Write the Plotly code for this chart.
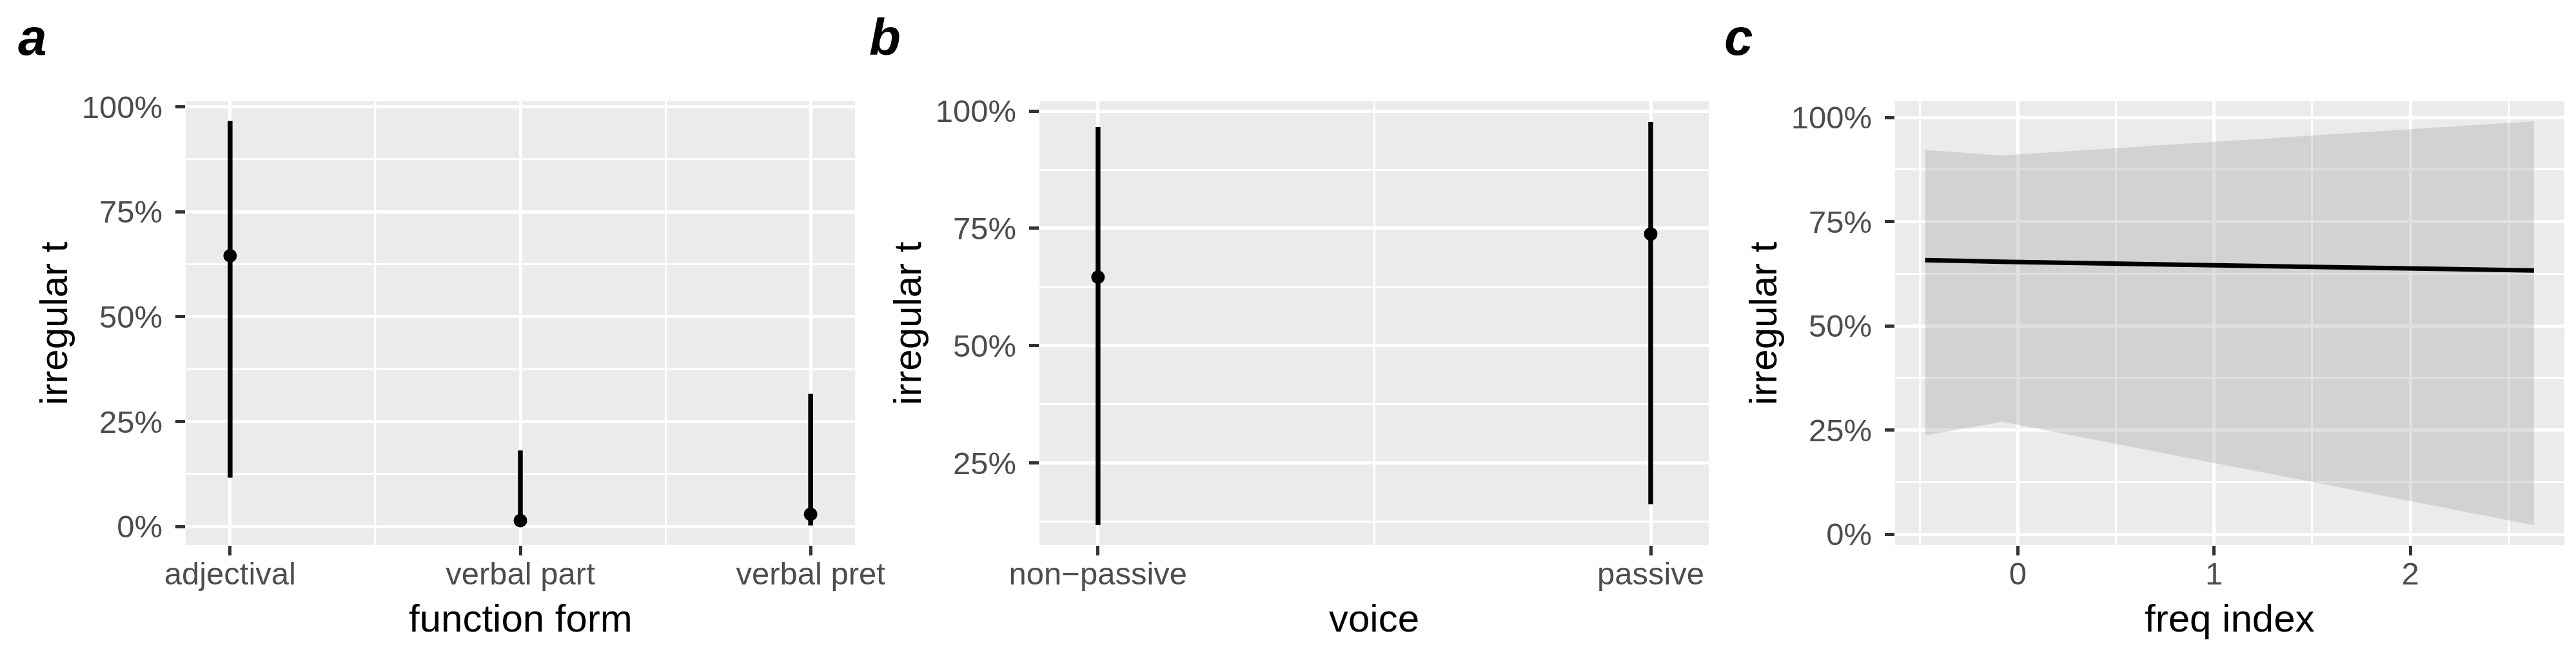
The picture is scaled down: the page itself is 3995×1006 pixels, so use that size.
import plotly.graph_objects as go

W, H = 3995, 1006

# ---- data ----
form_cats = ["adjectival", "verbal part", "verbal pret"]
form_est = [64.5, 1.4, 2.9]
form_lo = [11.6, 0.2, 0.25]
form_hi = [96.6, 18.1, 31.6]

voice_cats = ["non\u2212passive", "passive"]
voice_est = [64.6, 73.8]
voice_lo = [11.75, 16.2]
voice_hi = [96.6, 97.7]

freq_x = [-0.472, -0.079, 2.63]
freq_fit = [65.8, 65.4, 63.3]
freq_lo = [23.7, 27.0, 2.2]
freq_hi = [92.2, 90.9, 99.1]

pct_ticks = [0, 25, 50, 75, 100]
pct_minor = [12.5, 37.5, 62.5, 87.5]

FONT = "Liberation Sans"
TICKCOL = "#4D4D4D"
TICKMARK = "#333333"
BG = "#EBEBEB"

def px2x(p):
    return p / W

def px2y(p):
    return 1 - p / H

panel_left = [280, 1604, 2931]
panel_w = 1038
top_px, bot_px = 149, 837

fig = go.Figure()

# panel a
fig.add_trace(go.Scatter(
    x=[1, 2, 3], y=form_est, mode="markers",
    marker=dict(color="black", size=21),
    error_y=dict(type="data", symmetric=False,
                 array=[h - e for h, e in zip(form_hi, form_est)],
                 arrayminus=[e - l for e, l in zip(form_est, form_lo)],
                 width=0, thickness=7.5, color="black"),
    xaxis="x", yaxis="y", showlegend=False))

# panel b
fig.add_trace(go.Scatter(
    x=[1, 2], y=voice_est, mode="markers",
    marker=dict(color="black", size=21),
    error_y=dict(type="data", symmetric=False,
                 array=[h - e for h, e in zip(voice_hi, voice_est)],
                 arrayminus=[e - l for e, l in zip(voice_est, voice_lo)],
                 width=0, thickness=7.5, color="black"),
    xaxis="x2", yaxis="y2", showlegend=False))

# panel c
fig.add_trace(go.Scatter(x=freq_x, y=freq_lo, mode="lines", line=dict(width=0),
                         xaxis="x3", yaxis="y3", showlegend=False))
fig.add_trace(go.Scatter(x=freq_x, y=freq_hi, mode="lines", line=dict(width=0),
                         fill="tonexty", fillcolor="rgba(153,153,153,0.3)",
                         xaxis="x3", yaxis="y3", showlegend=False))
fig.add_trace(go.Scatter(x=freq_x, y=freq_fit, mode="lines",
                         line=dict(color="black", width=7),
                         xaxis="x3", yaxis="y3", showlegend=False))

tickfont = dict(family=FONT, size=49, color=TICKCOL)

def xaxis_cfg(i, rng, tickvals, ticktext, minor_vals):
    l = panel_left[i]
    return dict(
        domain=[px2x(l), px2x(l + panel_w)], range=rng,
        tickmode="array", tickvals=tickvals, ticktext=ticktext,
        showgrid=True, gridcolor="white", gridwidth=5,
        minor=dict(tickmode="array", tickvals=minor_vals, showgrid=True,
                   gridcolor="white", gridwidth=2.5, ticks=""),
        ticks="outside", ticklen=15, tickwidth=4.5, tickcolor=TICKMARK,
        tickfont=tickfont, zeroline=False, showline=False,
        ticklabelstandoff=-14, automargin=False,
        anchor="y" if i == 0 else "y%d" % (i + 1),
    )

def yaxis_cfg(i, rng):
    return dict(
        domain=[px2y(bot_px), px2y(top_px)], range=rng,
        tickmode="array", tickvals=pct_ticks, ticktext=["%d%%" % v for v in pct_ticks],
        showgrid=True, gridcolor="white", gridwidth=5,
        minor=dict(tickmode="array", tickvals=pct_minor, showgrid=True,
                   gridcolor="white", gridwidth=2.5, ticks=""),
        ticks="outside", ticklen=15, tickwidth=4.5, tickcolor=TICKMARK,
        tickfont=tickfont, zeroline=False, showline=False,
        ticklabelstandoff=10, automargin=False,
        anchor="x" if i == 0 else "x%d" % (i + 1),
    )

fig.update_layout(
    width=W, height=H,
    margin=dict(l=0, r=0, t=0, b=0, autoexpand=False),
    paper_bgcolor="white", plot_bgcolor=BG,
    xaxis=xaxis_cfg(0, [0.847, 3.153], [1, 2, 3], form_cats, [1.5, 2.5]),
    yaxis=yaxis_cfg(0, [-4.45, 101.3]),
    xaxis2=xaxis_cfg(1, [0.894, 2.105], [1, 2], voice_cats, [1.5]),
    yaxis2=yaxis_cfg(1, [7.45, 102.1]),
    xaxis3=xaxis_cfg(2, [-0.625, 2.785], [0, 1, 2], ["0", "1", "2"], [-0.5, 0.5, 1.5, 2.5]),
    yaxis3=yaxis_cfg(2, [-2.6, 103.9]),
)

annotations = []
xtitles = ["function form", "voice", "freq index"]
labels = ["a", "b", "c"]
label_x = [18, 1338, 2664]
for i in range(3):
    l = panel_left[i]
    annotations.append(dict(
        text=xtitles[i], xref="paper", yref="paper",
        x=px2x(l + panel_w / 2), y=px2y(950), xanchor="center", yanchor="middle",
        showarrow=False, font=dict(family=FONT, size=60, color="black")))
    annotations.append(dict(
        text="irregular t", xref="paper", yref="paper",
        x=px2x(l - 205), y=px2y((top_px + bot_px) / 2), xanchor="center", yanchor="middle",
        textangle=-90, showarrow=False, font=dict(family=FONT, size=60, color="black")))
    annotations.append(dict(
        text=labels[i], xref="paper", yref="paper",
        x=px2x(label_x[i]), y=px2y(50), xanchor="left", yanchor="middle",
        showarrow=False,
        font=dict(family=FONT, size=80, color="black", weight="bold", style="italic")))

fig.update_layout(annotations=annotations)

fig.write_html("out.html")
